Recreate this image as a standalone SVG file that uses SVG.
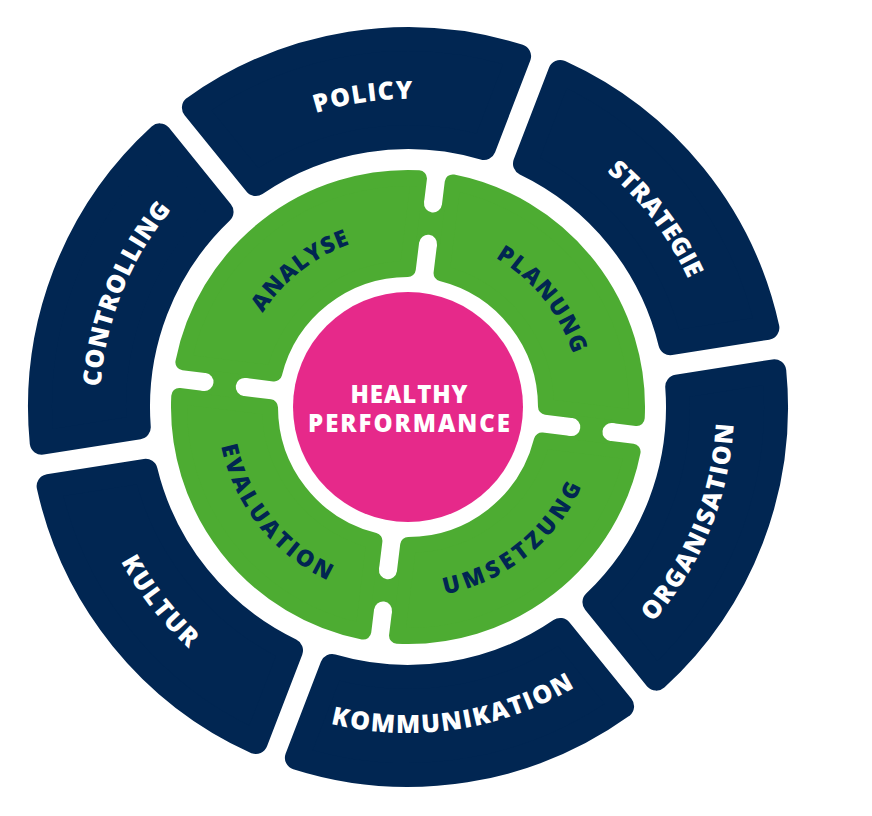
<svg xmlns="http://www.w3.org/2000/svg" width="872" height="816" viewBox="0 0 872 816">
<style>
.navy{fill:#012652;stroke:#012652;stroke-width:24;stroke-linejoin:round}
.green{fill:#4dac32;stroke:#4dac32;stroke-width:16;stroke-linejoin:round}
.gfill{fill:#4dac32}
.hole{fill:#ffffff}
.lbl{font-family:"Open Sans","Liberation Sans",sans-serif;font-weight:800;text-anchor:middle}
.nl{fill:#ffffff;font-size:25px}
.gl{fill:#012652;font-size:23px}
.cl{fill:#ffffff;font-size:24px}
</style>
<defs>
<path id="navySeg" d="M 244.049 -115.498 L 329.128 -164.618 A 368 368 0 0 1 329.128 164.618 L 244.049 115.498 A 270 270 0 0 0 244.049 -115.498 Z"/>
<path id="greenSeg" d="M 108.859 -84.818 L 173.504 -149.461 A 229 229 0 0 1 173.504 149.461 L 108.859 84.818 A 138 138 0 0 0 108.859 -84.818 Z"/>
<path id="ncw" d="M 154 -266.736 A 308 308 0 0 1 154 266.736"/>
<path id="nccw" d="M 163 282.324 A 326 326 0 0 0 163 -282.324"/>
<path id="gcw" d="M 86.5 -149.822 A 173 173 0 0 1 86.5 149.822"/>
<path id="gccw" d="M 95.5 165.411 A 191 191 0 0 0 95.5 -165.411"/>
<g id="bridge"><rect class="gfill" x="164.5" y="-12" width="40.5" height="24"/><circle class="hole" cx="164.5" cy="0" r="9"/><circle class="hole" cx="205" cy="0" r="9"/></g>
</defs>
<rect width="872" height="816" fill="#ffffff"/>
<g transform="translate(408 407)">
<g id="policy"><use href="#navySeg" class="navy" transform="rotate(261)"/><text class="lbl nl" transform="rotate(261.7)"><textPath href="#ncw" startOffset="50%" textLength="98" lengthAdjust="spacing">POLICY</textPath></text></g>
<g id="strategie"><use href="#navySeg" class="navy" transform="rotate(321)"/><text class="lbl nl" transform="rotate(322.8)"><textPath href="#ncw" startOffset="50%" textLength="136" lengthAdjust="spacing">STRATEGIE</textPath></text></g>
<g id="organisation"><use href="#navySeg" class="navy" transform="rotate(21)"/><text class="lbl nl" transform="rotate(22.2)"><textPath href="#nccw" startOffset="50%" textLength="218" lengthAdjust="spacing">ORGANISATION</textPath></text></g>
<g id="kommunikation"><use href="#navySeg" class="navy" transform="rotate(81)"/><text class="lbl nl" transform="rotate(81.5)"><textPath href="#nccw" startOffset="50%" textLength="253" lengthAdjust="spacing">KOMMUNIKATION</textPath></text></g>
<g id="kultur"><use href="#navySeg" class="navy" transform="rotate(141)"/><text class="lbl nl" transform="rotate(142)"><textPath href="#nccw" startOffset="50%" textLength="111" lengthAdjust="spacing">KULTUR</textPath></text></g>
<g id="controlling"><use href="#navySeg" class="navy" transform="rotate(201)"/><text class="lbl nl" transform="rotate(201.8)"><textPath href="#ncw" startOffset="50%" textLength="194" lengthAdjust="spacing">CONTROLLING</textPath></text></g>
<g id="analyse"><use href="#greenSeg" class="green" transform="rotate(232)"/><text class="lbl gl" transform="rotate(231.6)"><textPath href="#gcw" startOffset="50%" textLength="113" lengthAdjust="spacing">ANALYSE</textPath></text></g>
<g id="planung"><use href="#greenSeg" class="green" transform="rotate(322)"/><text class="lbl gl" transform="rotate(321.3)"><textPath href="#gcw" startOffset="50%" textLength="126" lengthAdjust="spacing">PLANUNG</textPath></text></g>
<g id="umsetzung"><use href="#greenSeg" class="green" transform="rotate(52)"/><text class="lbl gl" transform="rotate(51.75)"><textPath href="#gccw" startOffset="50%" textLength="181" lengthAdjust="spacing">UMSETZUNG</textPath></text></g>
<g id="evaluation"><use href="#greenSeg" class="green" transform="rotate(142)"/><text class="lbl gl" transform="rotate(141.5)"><textPath href="#gccw" startOffset="50%" textLength="178" lengthAdjust="spacing">EVALUATION</textPath></text></g>
<g id="connectors">
<use href="#bridge" transform="rotate(7)"/>
<use href="#bridge" transform="rotate(97)"/>
<use href="#bridge" transform="rotate(187)"/>
<use href="#bridge" transform="rotate(277)"/>
</g>
</g>
<g id="healthy-performance">
<circle cx="408" cy="407" r="115" fill="#e6298a"/>
<text class="lbl cl" x="409" y="403" textLength="117" lengthAdjust="spacing">HEALTHY</text>
<text class="lbl cl" x="409" y="432" textLength="202" lengthAdjust="spacing">PERFORMANCE</text>
</g>
</svg>
